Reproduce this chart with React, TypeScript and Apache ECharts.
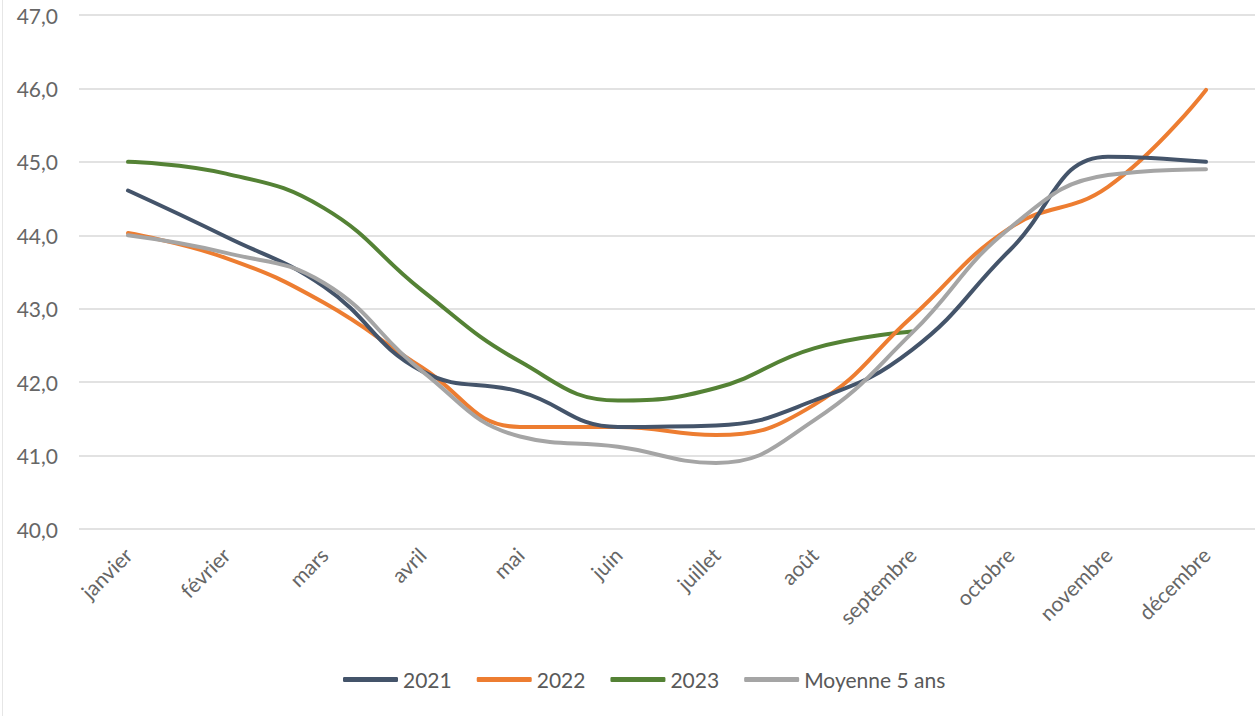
import React, { useEffect, useRef } from "react";
import * as echarts from "echarts";

const months = ["janvier", "février", "mars", "avril", "mai", "juin", "juillet", "août", "septembre", "octobre", "novembre", "décembre"];
const s2021 = [44.61, 43.98, 43.3, 42.15, 41.87, 41.39, 41.41, 41.75, 42.44, 43.8, 45.07, 45.0];
const s2022 = [44.03, 43.69, 43.08, 42.2, 41.39, 41.39, 41.28, 41.69, 42.89, 44.1, 44.66, 45.98];
const s2023 = [45.0, 44.84, 44.37, 43.25, 42.28, 41.75, 41.92, 42.46, 42.69];
const sAvg = [44.0, 43.76, 43.35, 42.15, 41.26, 41.12, 40.9, 41.48, 42.67, 44.1, 44.82, 44.9];
const yTicks = { min: 40, max: 47, interval: 1 };

const FONT = "Lato, 'Open Sans', sans-serif";

export default function App() {
  const ref = useRef<HTMLDivElement>(null);
  useEffect(() => {
    if (!ref.current) return;
    const chart = echarts.init(ref.current, null, { renderer: "svg" });
    const mk = (name: string, data: number[], color: string, z: number) => ({
      name,
      type: "line",
      data,
      smooth: 0.45,
      showSymbol: false,
      symbol: "none",
      z,
      lineStyle: { color, width: 4, cap: "round", join: "round" },
      itemStyle: { color },
    });
    chart.setOption({
      animation: false,
      backgroundColor: "#ffffff",
      textStyle: { fontFamily: FONT },
      grid: { left: 79, right: -10, top: 15, bottom: 187 },
      graphic: [
        { type: "line", shape: { x1: 2.5, y1: 0, x2: 2.5, y2: 716 }, style: { stroke: "#E6E6E6", lineWidth: 1 } },
      ],
      xAxis: {
        type: "category",
        data: months,
        boundaryGap: true,
        axisLine: { show: false },
        axisTick: { show: false },
        axisLabel: { rotate: 45, color: "#666666", fontSize: 21, fontFamily: FONT, margin: 22, interval: 0 },
      },
      yAxis: {
        type: "value",
        min: yTicks.min,
        max: yTicks.max,
        interval: yTicks.interval,
        axisLine: { show: false },
        axisTick: { show: false },
        axisLabel: {
          color: "#666666",
          fontSize: 21,
          fontFamily: FONT,
          margin: 21,
          formatter: (v: number) => v.toFixed(1).replace(".", ","),
        },
        splitLine: { lineStyle: { color: "#D9D9D9", width: 1.5 } },
      },
      legend: {
        bottom: 21,
        left: 338,
        icon: "roundRect",
        itemWidth: 55,
        itemHeight: 5,
        itemGap: 25,
        textStyle: { color: "#595959", fontSize: 21, fontFamily: FONT },
        data: ["2021", "2022", "2023", "Moyenne 5 ans"],
      },
      series: [
        mk("2021", s2021, "#44546A", 4),
        mk("2022", s2022, "#ED7D31", 3),
        mk("2023", s2023, "#548235", 2),
        mk("Moyenne 5 ans", sAvg, "#A5A5A5", 5),
      ],
    });
    return () => chart.dispose();
  }, []);
  return <div ref={ref} style={{ position: "fixed", left: 0, top: 0, width: 1255, height: 716 }} />;
}
